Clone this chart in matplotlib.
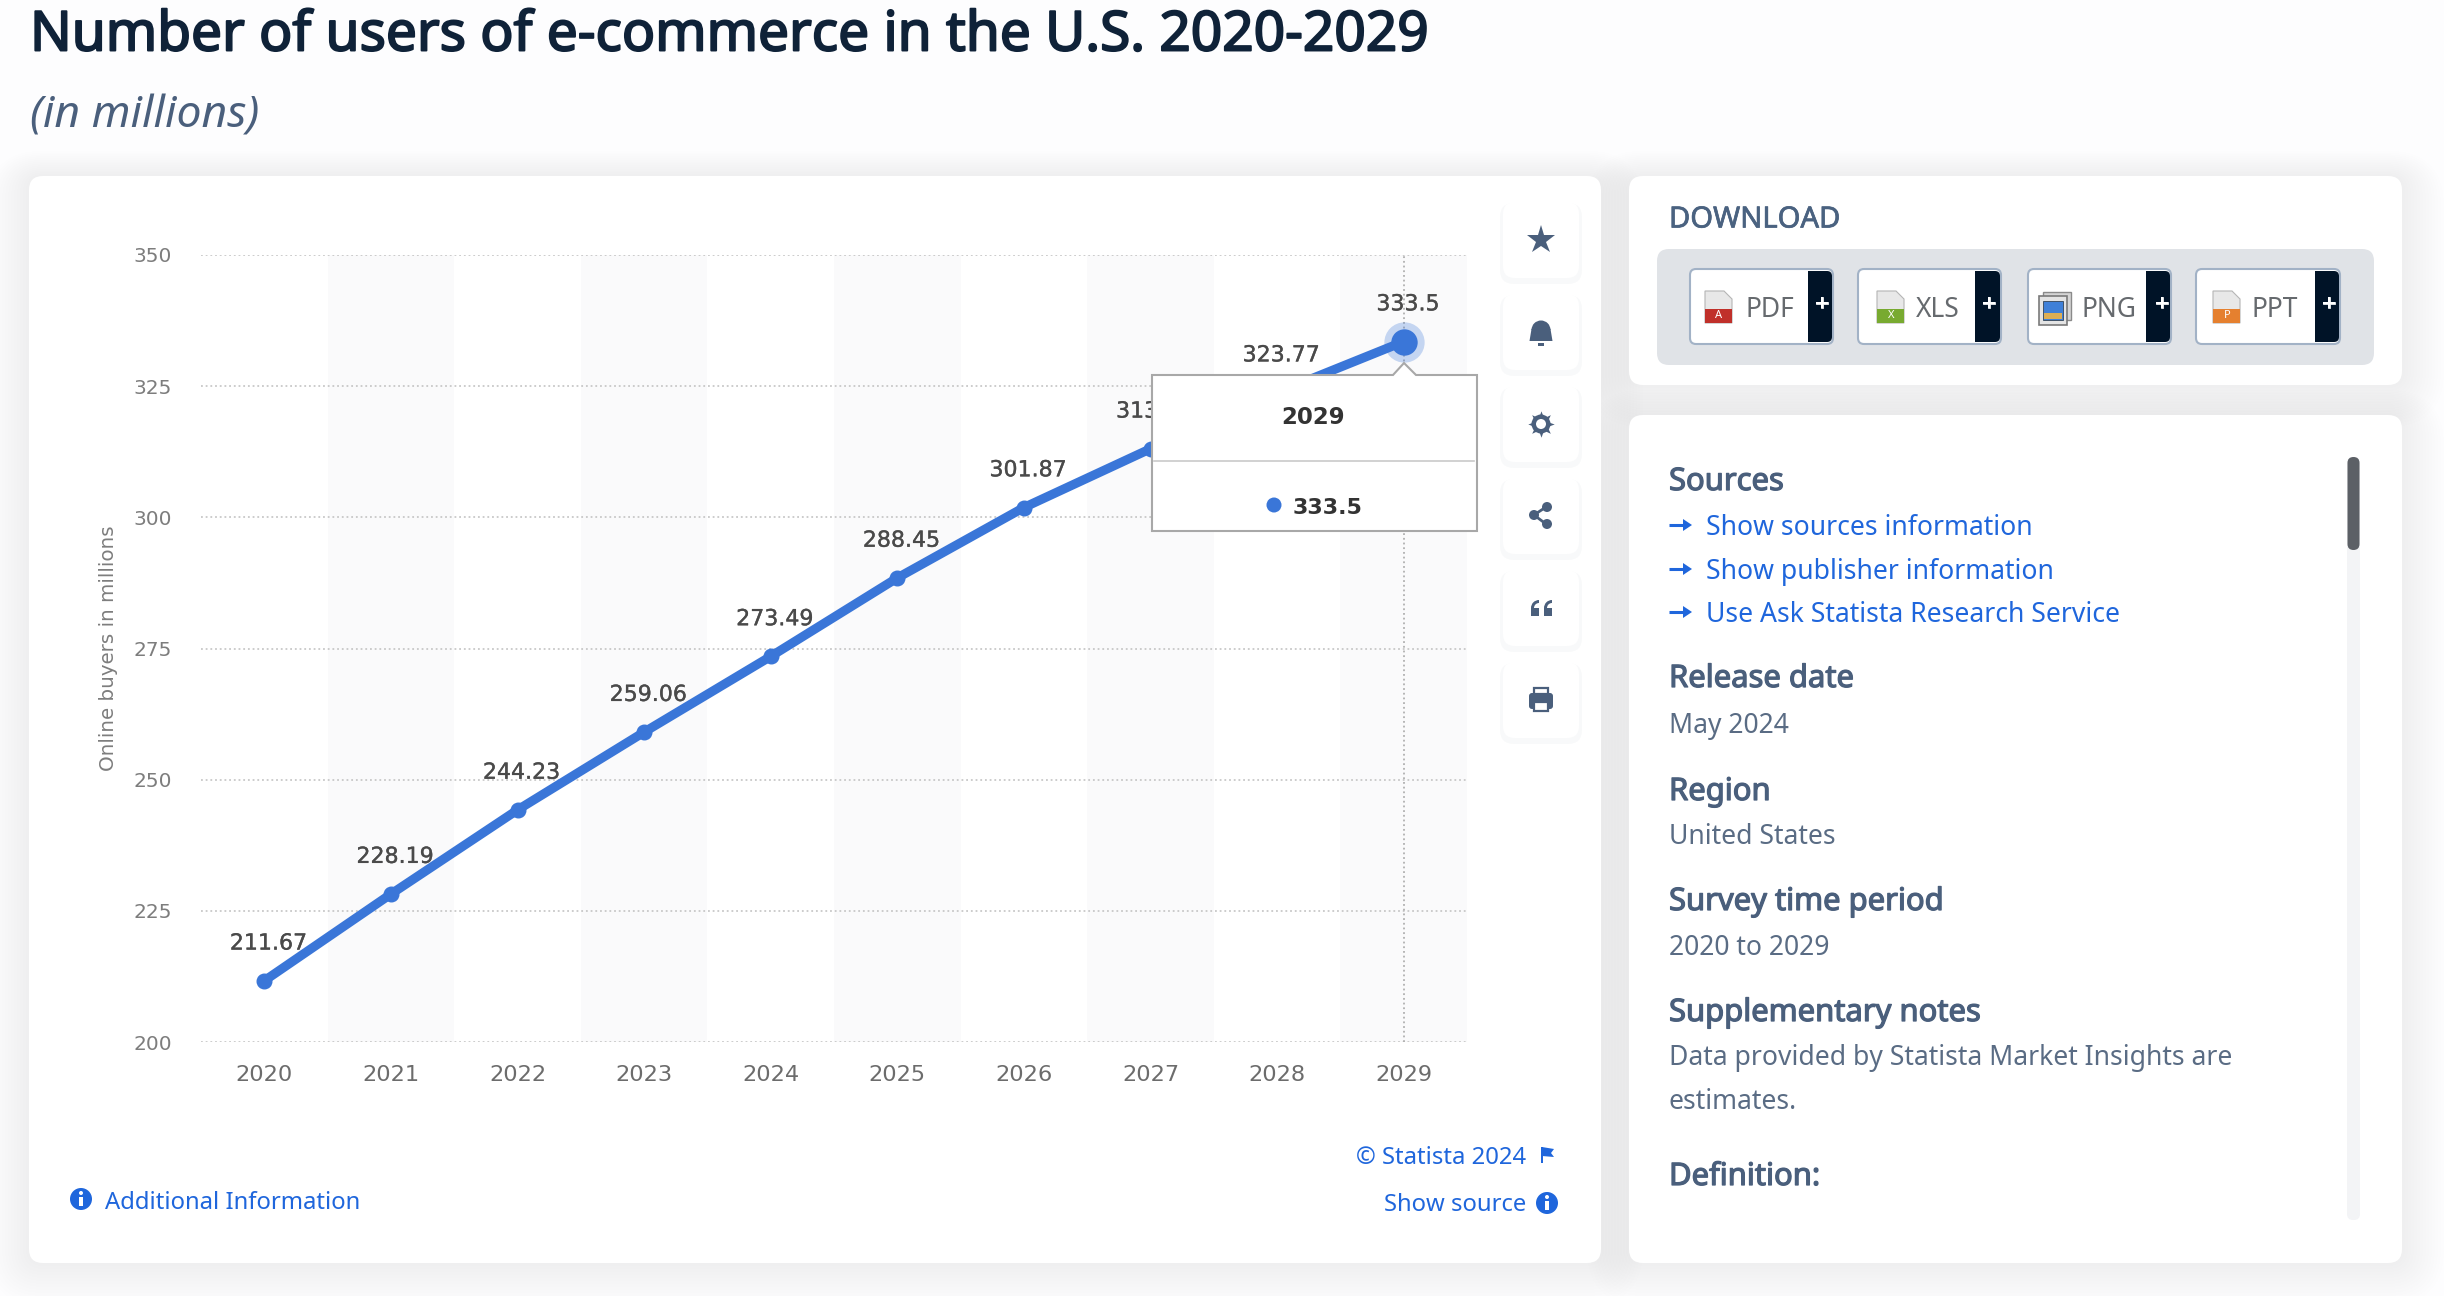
#!/usr/bin/env python3
"""Number of e-commerce users in the U.S., redrawn with the surrounding page."""

from __future__ import annotations

import matplotlib

matplotlib.use("Agg")
import matplotlib.patheffects as pe
import matplotlib.pyplot as plt
from matplotlib.patches import Circle, FancyBboxPatch, Polygon, Rectangle, Wedge

W, H = 2444, 1296

YEARS = ["2020", "2021", "2022", "2023", "2024", "2025", "2026", "2027", "2028", "2029"]
USERS = [211.67, 228.19, 244.23, 259.06, 273.49, 288.45, 301.87, 313.07, 323.77, 333.5]
Y_TICKS = [200, 225, 250, 275, 300, 325, 350]

SOURCE_LINKS = ["Show sources information", "Show publisher information", "Use Ask Statista Research Service"]
DOWNLOADS = ["PDF", "XLS", "PNG", "PPT"]

BLUE = "#3a76d8"
LINK = "#1f66dc"
SLATE = "#4a5f7c"
INK = "#0f2238"
DARK = "#001327"
UI_FONT = ["Noto Sans", "DejaVu Sans"]
BODY = 19.1
HEAD = 22.3


def heavier(color, width):
    # the installed Noto Sans has no heavier cut, so thicken the outline
    return [pe.withStroke(linewidth=width, foreground=color)]


def rbox(ax, x0, y0, x1, y1, radius=10, **kwargs):
    patch = FancyBboxPatch(
        (x0 + radius, y0 + radius),
        x1 - x0 - 2 * radius,
        y1 - y0 - 2 * radius,
        boxstyle=f"round,pad={radius},rounding_size={radius}",
        linewidth=kwargs.pop("linewidth", 0),
        **kwargs,
    )
    ax.add_patch(patch)
    return patch


def card(ax, x0, y0, x1, y1, radius=14, spread=42, alpha=0.0035):
    # soft page shadow, a stack of faint boxes
    for grow in range(spread, 0, -3):
        rbox(ax, x0 - grow, y0 - grow * 0.6, x1 + grow, y1 + grow, radius + grow,
             facecolor="#3a4a6a", alpha=alpha, zorder=1)
    rbox(ax, x0, y0, x1, y1, radius, facecolor="white", zorder=2)


def ui_text(ax, x, y, s, size=BODY, color=SLATE, ha="left", zorder=5, stroke=0.0):
    # Noto Sans sits a little high when centred on its box
    text = ax.text(x, y + 12, s, fontsize=size, color=color, ha=ha, va="center", family=UI_FONT, zorder=zorder)
    if stroke:
        text.set_path_effects(heavier(color, stroke))


def info_icon(ax, x, y):
    ax.add_patch(Circle((x, y), 11, facecolor=LINK, zorder=5))
    ax.add_patch(Rectangle((x - 1.6, y - 2), 3.4, 9, facecolor="white", zorder=6))
    ax.add_patch(Circle((x, y - 6), 2, facecolor="white", zorder=6))


def file_icon(ax, x0, y0, color, mark):
    x1, y1 = x0 + 27, y0 + 32
    ax.add_patch(Polygon([(x0, y0), (x1 - 8, y0), (x1, y0 + 8), (x1, y1), (x0, y1)],
                         facecolor="#e8e8e8", edgecolor="#b5b5b5", linewidth=0.8, zorder=6))
    ax.add_patch(Rectangle((x0, y0 + 18), 27, 14, facecolor=color, zorder=7))
    ax.text(x0 + 14, y0 + 25, mark, color="white", fontsize=8, fontweight="bold",
            ha="center", va="center", family=UI_FONT, zorder=8)


def png_icon(ax, x0, y0):
    ax.add_patch(Rectangle((x0 + 4, y0), 28, 28, facecolor="#d5d5d5", edgecolor="#8a8a8a", linewidth=1, zorder=6))
    ax.add_patch(Rectangle((x0, y0 + 4), 28, 29, facecolor="#e4e4e4", edgecolor="#7a7a7a", linewidth=1.2, zorder=7))
    ax.add_patch(Rectangle((x0 + 4, y0 + 9), 20, 19, facecolor="#3f80d8", edgecolor="#345", linewidth=0.6, zorder=8))
    ax.add_patch(Rectangle((x0 + 5, y0 + 21), 18, 6, facecolor="#dcae55", zorder=9))


def toolbar(ax):
    tops = [202, 294, 386, 478, 570, 662]
    for top in tops:
        rbox(ax, 1503 - 3, top + 1, 1579 + 3, top + 82, 14, facecolor="#39496a", alpha=0.03, zorder=3)
        rbox(ax, 1503, top, 1579, top + 76, 12, facecolor="white", zorder=4)
    cx = 1541
    ax.plot([cx], [240], marker="*", markersize=21, color=SLATE, markeredgewidth=0, zorder=6)
    # bell
    ax.add_patch(Wedge((cx, 330), 9.5, 180, 360, facecolor=SLATE, zorder=6))
    ax.add_patch(Polygon([(cx - 9.5, 329), (cx + 9.5, 329), (cx + 11.5, 341), (cx - 11.5, 341)],
                         facecolor=SLATE, zorder=6))
    ax.add_patch(Rectangle((cx - 3, 343), 6, 2.5, facecolor=SLATE, zorder=6))
    # gear
    ax.plot([cx], [424], marker=(8, 1, 0), markersize=19, color=SLATE, markeredgewidth=0, zorder=6)
    ax.add_patch(Circle((cx, 424), 9.5, facecolor=SLATE, zorder=6))
    ax.add_patch(Circle((cx, 424), 5, facecolor="white", zorder=7))
    # share
    ax.plot([cx + 5, cx - 7, cx + 5], [507, 515, 524], color=SLATE, linewidth=2, zorder=6)
    for px, py in [(cx + 6, 507), (cx - 7, 515), (cx + 6, 524)]:
        ax.add_patch(Circle((px, py), 5, facecolor=SLATE, zorder=7))
    # quote marks
    for off in (-10, 3):
        ax.add_patch(Rectangle((cx + off, 608), 8, 8, facecolor=SLATE, zorder=6))
        ax.add_patch(Wedge((cx + off + 8, 608), 8, 180, 270, width=3, facecolor=SLATE, zorder=6))
    # printer
    rbox(ax, cx - 12, 693, cx + 12, 709, 3, facecolor=SLATE, zorder=6)
    ax.add_patch(Rectangle((cx - 7, 688), 14, 6, facecolor="white", edgecolor=SLATE, linewidth=1.6, zorder=7))
    ax.add_patch(Rectangle((cx - 7, 702), 14, 9, facecolor="white", edgecolor=SLATE, linewidth=1.6, zorder=7))


def draw_download(ax):
    ui_text(ax, 1669, 208, "DOWNLOAD", size=21, color="#4a6280", stroke=0.5)
    rbox(ax, 1657, 249, 2374, 365, 12, facecolor="#e0e3e7", zorder=3)
    buttons = [(1690, 1808, 1833), (1858, 1975, 2001), (2028, 2146, 2171), (2196, 2315, 2340)]
    text_x = [1746, 1916, 2081, 2252]
    plus_x = [1822, 1989, 2162, 2329]
    for label, (x0, xm, x1), tx, px in zip(DOWNLOADS, buttons, text_x, plus_x):
        rbox(ax, x0, 269, x1, 344, 6, facecolor="white", edgecolor="#a2b2c6", linewidth=1.5, zorder=4)
        rbox(ax, xm, 271, x1 - 1, 342, 5, facecolor=DARK, zorder=5)
        ax.add_patch(Rectangle((xm, 271), 8, 71, facecolor=DARK, zorder=5))
        ui_text(ax, tx, 298, label, size=19, color="#666a6e")
        ui_text(ax, px, 293, "+", size=17, color="white", ha="center", zorder=6, stroke=0.5)
    file_icon(ax, 1705, 291, "#c0302a", "A")
    file_icon(ax, 1877, 291, "#78aa30", "X")
    png_icon(ax, 2039, 292)
    file_icon(ax, 2213, 291, "#e5802f", "P")


def draw_details(ax):
    ui_text(ax, 1669, 470, "Sources", size=HEAD, stroke=0.9)
    for y, link in zip([516, 560, 603], SOURCE_LINKS):
        ax.plot([1669, 1686], [y + 9, y + 9], color=LINK, linewidth=2.2, solid_capstyle="butt", zorder=5)
        ax.add_patch(Polygon([(1683, y + 3), (1692, y + 9), (1683, y + 15)], facecolor=LINK, zorder=5))
        ui_text(ax, 1706, y, link, color=LINK)
    rows = [
        (667, "Release date", 714, "May 2024"),
        (780, "Region", 825, "United States"),
        (890, "Survey time period", 936, "2020 to 2029"),
    ]
    for y0, head, y1, body in rows:
        ui_text(ax, 1669, y0, head, size=HEAD, stroke=0.9)
        ui_text(ax, 1669, y1, body, color="#5a6c84")
    ui_text(ax, 1669, 1001, "Supplementary notes", size=HEAD, stroke=0.9)
    ui_text(ax, 1669, 1046, "Data provided by Statista Market Insights are", color="#5a6c84")
    ui_text(ax, 1669, 1090, "estimates.", color="#5a6c84")
    ui_text(ax, 1669, 1165, "Definition:", size=HEAD, stroke=0.9)
    # scroll bar
    rbox(ax, 2347, 457, 2360, 1220, 6, facecolor="#f3f4f6", zorder=3)
    rbox(ax, 2347.5, 457, 2359.5, 550, 6, facecolor="#5c6066", zorder=4)


def draw_footer(ax):
    ui_text(ax, 1526, 1146, "© Statista 2024", size=17.2, color=LINK, ha="right")
    ax.add_patch(Rectangle((1541, 1147), 1.6, 16, facecolor=LINK, zorder=5))
    ax.add_patch(Polygon([(1542, 1147), (1554, 1149), (1551, 1153), (1554, 1157), (1542, 1156)],
                         facecolor=LINK, zorder=5))
    ui_text(ax, 1526, 1193, "Show source", size=17.2, color=LINK, ha="right")
    info_icon(ax, 1547, 1203)
    info_icon(ax, 81, 1199)
    ui_text(ax, 105, 1191, "Additional Information", size=17.2, color=LINK)


def draw_tooltip(ax):
    edge = "#a8a8a8"
    outline = [(1152, 375), (1393, 375), (1404, 363), (1416, 375), (1477, 375), (1477, 531), (1152, 531)]
    ax.add_patch(Polygon(outline, closed=True, facecolor="white", edgecolor=edge, linewidth=1.5, zorder=6))
    ax.plot([1154, 1474], [461, 461], color="#c9c9c9", linewidth=1.2, zorder=7)
    ax.text(1313, 417, YEARS[-1], fontsize=16.5, fontweight="bold", color="#333333", ha="center", va="center",
            family="DejaVu Sans", zorder=7)
    ax.add_patch(Circle((1274, 505), 7.5, facecolor=BLUE, zorder=7))
    ax.text(1293, 508, f"{USERS[-1]}", fontsize=16, fontweight="bold", color="#333333", ha="left", va="center",
            family="DejaVu Sans", zorder=7)


def draw_chart(fig):
    left, right, top, bottom = 201, 1467, 255, 1042
    ax = fig.add_axes([left / W, 1 - bottom / H, (right - left) / W, (bottom - top) / H], zorder=2)
    ax.patch.set_alpha(0)
    xs = list(range(len(YEARS)))
    for x in xs[1::2]:
        ax.axvspan(x - 0.5, x + 0.5, color="#fafafb", linewidth=0, zorder=0)
    ax.grid(axis="y", color="#c8c8c8", linestyle=(0, (1, 1.6)), linewidth=1.3, zorder=1)
    ax.set_axisbelow(True)
    ax.axvline(xs[-1], color="#b0b0b0", linestyle=(0, (1, 1.6)), linewidth=1.3, zorder=1)
    ax.plot(xs, USERS, color=BLUE, linewidth=6.6, marker="o", markersize=10.5, solid_capstyle="round", zorder=3)
    ax.plot(xs[-1], USERS[-1], marker="o", markersize=29, color=BLUE, alpha=0.28, markeredgewidth=0, zorder=4)
    ax.plot(xs[-1], USERS[-1], marker="o", markersize=19, color=BLUE, markeredgewidth=0, zorder=5)
    for x, value in zip(xs, USERS):
        label = ax.annotate(f"{value:g}", (x, value), xytext=(3.0, 26.8), textcoords="offset points", ha="center",
                            va="center", fontsize=15.9, color="#4a4a4a", family="DejaVu Sans", zorder=6)
        label.set_path_effects(heavier("#4a4a4a", 0.25))
    ax.set_xlim(-0.5, len(YEARS) - 0.5)
    ax.set_ylim(200, 350)
    ax.set_xticks(xs, YEARS)
    ax.set_yticks(Y_TICKS)
    ax.tick_params(axis="x", length=0, pad=16.5, labelsize=16.2, labelcolor="#6c6c6c")
    ax.tick_params(axis="y", length=0, pad=21, labelsize=14.5, labelcolor="#7d7d7d")
    for spine in ax.spines.values():
        spine.set_visible(False)
    ax.set_ylabel("Online buyers in millions", fontsize=14.3, color="#7d7d7d")
    ax.yaxis.set_label_coords((118 - left) / (right - left), (bottom - 648) / (bottom - top))
    return ax


def main() -> None:
    fig = plt.figure(figsize=(W / 100, H / 100), dpi=100, facecolor="#fdfdfe")

    page = fig.add_axes([0, 0, 1, 1], zorder=1)
    page.set_xlim(0, W)
    page.set_ylim(H, 0)
    page.axis("off")
    title = page.text(30, 36, "Number of users of e-commerce in the U.S. 2020-2029", fontsize=39.6, color=INK,
                      va="center", family=UI_FONT)
    title.set_path_effects(heavier(INK, 1.4))
    page.text(30, 116, "(in millions)", fontsize=32, color=SLATE, fontstyle="italic", va="center", family=UI_FONT)
    card(page, 29, 176, 1601, 1263)
    card(page, 1629, 176, 2402, 385)
    card(page, 1629, 415, 2402, 1263)
    draw_download(page)
    draw_details(page)
    draw_footer(page)

    draw_chart(fig)

    overlay = fig.add_axes([0, 0, 1, 1], zorder=3)
    overlay.set_xlim(0, W)
    overlay.set_ylim(H, 0)
    overlay.axis("off")
    overlay.patch.set_alpha(0)
    toolbar(overlay)
    draw_tooltip(overlay)

    fig.savefig("out.png", dpi=100, facecolor=fig.get_facecolor())
    plt.close(fig)


if __name__ == "__main__":
    main()
